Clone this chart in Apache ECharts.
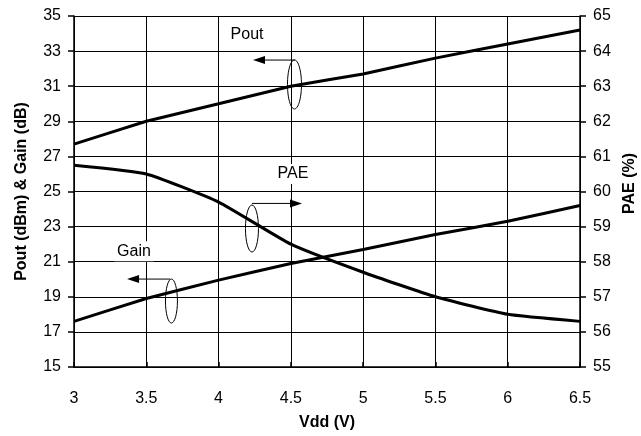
<!DOCTYPE html>
<html><head><meta charset="utf-8">
<script src="https://cdn.jsdelivr.net/npm/echarts@6/dist/echarts.min.js"></script>
<style>html,body{margin:0;padding:0;background:#fff}#c{width:641px;height:436px}</style>
</head><body><div id="c"></div>
<script>
var vdd = [3, 3.5, 4, 4.5, 5, 5.5, 6, 6.5];
var pout = [27.7, 29.0, 30.0, 31.0, 31.7, 32.6, 33.4, 34.2];
var gain = [17.6, 18.9, 19.95, 20.9, 21.7, 22.55, 23.3, 24.2];
var pae = [60.75, 60.5, 59.7, 58.5, 57.7, 57.0, 56.5, 56.3];
var leftTicks = [15, 17, 19, 21, 23, 25, 27, 29, 31, 33, 35];

// annotations in data coordinates (left axis)
var labels = [
  {text: 'Pout', x: 4.197, y: 33.92},
  {text: 'PAE', x: 4.515, y: 26.0},
  {text: 'Gain', x: 3.415, y: 21.6}
];
var arrows = [
  {from: [4.529, 32.49], to: [4.238, 32.49]},
  {from: [4.231, 24.32], to: [4.577, 24.32]},
  {from: [3.664, 20.01], to: [3.367, 20.01]}
];
var ellipses = [
  {c: [4.525, 31.10], rx: 7, ry: 24.5},
  {c: [4.231, 22.89], rx: 6.5, ry: 23.5},
  {c: [3.674, 18.76], rx: 6, ry: 22}
];

function pairs(xs, ys){ return xs.map(function(x,i){ return [x, ys[i]]; }); }

var chart = echarts.init(document.getElementById('c'), null, {renderer:'canvas'});
var font = 'Liberation Sans, Arial, sans-serif';
var lineStyle = {color:'#000', width:1};
var fs = 16;
chart.setOption({
  animation:false,
  backgroundColor:'#fff',
  grid:{left:74, right:61, top:16, bottom:69, show:false, containLabel:false, outerBoundsMode:'none'},
  xAxis:{
    type:'value', min:3, max:6.5, interval:0.5,
    name:'Vdd (V)', nameLocation:'middle', nameGap:48,
    nameTextStyle:{fontFamily:font, fontWeight:'bold', fontSize:fs, color:'#000'},
    axisLine:{show:true, lineStyle:{color:'#000', width:1.5}},
    axisTick:{show:true, inside:true, length:5, lineStyle:{color:'#000', width:1.5}},
    axisLabel:{fontFamily:font, fontSize:fs, color:'#000', margin:24},
    splitLine:{show:true, lineStyle:lineStyle}
  },
  yAxis:[{
    type:'value', min:15, max:35, position:'left',
    name:'Pout (dBm) & Gain (dB)', nameLocation:'middle', nameGap:44, nameRotate:90,
    nameTextStyle:{fontFamily:font, fontWeight:'bold', fontSize:fs, color:'#000'},
    axisLine:{show:true, lineStyle:{color:'#000', width:1.5}},
    axisTick:{show:true, length:6, customValues:leftTicks, lineStyle:{color:'#000', width:1.5}},
    axisLabel:{fontFamily:font, fontSize:fs, color:'#000', margin:13, customValues:leftTicks},
    splitLine:{show:false}
  },{
    type:'value', min:55, max:65, interval:1, position:'right',
    name:'PAE (%)', nameLocation:'middle', nameGap:42, nameRotate:90,
    nameTextStyle:{fontFamily:font, fontWeight:'bold', fontSize:fs, color:'#000', padding:[0,0,0,16]},
    axisLine:{show:true, lineStyle:{color:'#000', width:1.5}},
    axisTick:{show:true, length:6, lineStyle:{color:'#000', width:1.5}},
    axisLabel:{fontFamily:font, fontSize:fs, color:'#000', margin:13},
    splitLine:{show:true, lineStyle:lineStyle}
  }],
  series:[
    {name:'Pout', type:'line', yAxisIndex:0, data:pairs(vdd,pout), smooth:0.05, showSymbol:false, lineStyle:{color:'#000', width:3}},
    {name:'Gain', type:'line', yAxisIndex:0, data:pairs(vdd,gain), smooth:0.05, showSymbol:false, lineStyle:{color:'#000', width:3}},
    {name:'PAE', type:'line', yAxisIndex:1, data:pairs(vdd,pae), smooth:0.15, showSymbol:false, lineStyle:{color:'#000', width:3}}
  ]
});

function px(p){ return chart.convertToPixel({gridIndex:0}, p); }
var g = [];
labels.forEach(function(l){
  var p = px([l.x, l.y]);
  g.push({type:'text', x:p[0], y:p[1], z:100, style:{text:l.text, fontFamily:font, fontSize:fs, fill:'#000', align:'center', verticalAlign:'middle', backgroundColor:'#fff', padding:[2,3]}});
});
arrows.forEach(function(a){
  var f = px(a.from), t = px(a.to);
  var dir = t[0] > f[0] ? 1 : -1;
  var hl = 12, hw = 4;
  g.push({type:'line', z:100, shape:{x1:f[0], y1:f[1], x2:t[0]-dir*hl, y2:t[1]}, style:{stroke:'#000', lineWidth:1}});
  g.push({type:'polygon', z:100, shape:{points:[[t[0], t[1]], [t[0]-dir*hl, t[1]-hw], [t[0]-dir*hl, t[1]+hw]]}, style:{fill:'#000'}});
});
ellipses.forEach(function(e){
  var c = px(e.c);
  g.push({type:'ellipse', z:100, shape:{cx:c[0], cy:c[1], rx:e.rx, ry:e.ry}, style:{fill:null, stroke:'#000', lineWidth:1}});
});
chart.setOption({graphic:g});
</script></body></html>
